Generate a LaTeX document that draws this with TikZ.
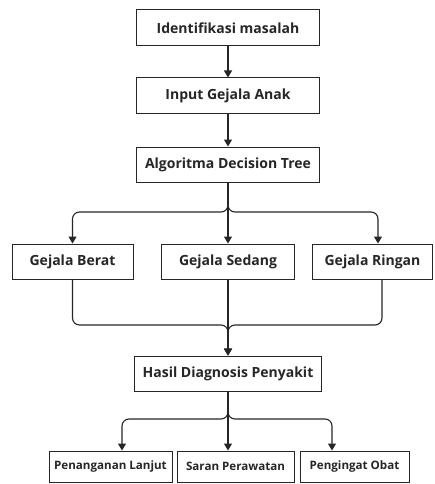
\documentclass[tikz,border=0pt]{standalone}
\usepackage{fontspec}
\setmainfont{Open Sans}
\usetikzlibrary{arrows.meta}
\begin{document}
\begin{tikzpicture}[x=1pt,y=-1pt,
  box/.style={draw=black!85,line width=1pt,rectangle,inner sep=0pt,fill=white,
    font=\fontsize{14}{16}\selectfont\bfseries,text=black!85},
  sbox/.style={box,font=\fontsize{11.6}{13}\selectfont\bfseries},
  conn/.style={draw=black!85,line width=1.1pt,rounded corners=7pt},
  arr/.style={conn,-{Triangle[length=7pt,width=8pt]}}]
\useasboundingbox[fill=white] (0,0) rectangle (434,484);
\node[box,minimum width=183pt,minimum height=36pt] (b1) at (228,28) {Identifikasi masalah};
\node[box,minimum width=183pt,minimum height=36pt] (b2) at (228,96) {Input Gejala Anak};
\node[box,minimum width=183pt,minimum height=35pt] (b3) at (228,164.5) {Algoritma Decision Tree};
\node[box,minimum width=121pt,minimum height=35pt] (berat) at (72.5,261.5) {Gejala Berat};
\node[box,minimum width=133pt,minimum height=35pt] (sedang) at (228,261.5) {Gejala Sedang};
\node[box,minimum width=120pt,minimum height=35pt] (ringan) at (372.5,261.5) {Gejala Ringan};
\node[box,minimum width=187pt,minimum height=35pt] (hasil) at (228,373.5) {Hasil Diagnosis Penyakit};
\node[sbox,minimum width=123pt,minimum height=31pt] (pen) at (110.5,466.5) {Penanganan Lanjut};
\node[sbox,minimum width=117pt,minimum height=31pt] (saran) at (235.5,466.5) {Saran Perawatan};
\node[sbox,minimum width=109pt,minimum height=31pt] (ping) at (354.5,466.5) {Pengingat Obat};
\coordinate (j1) at (228,212);
\coordinate (j2) at (228,325);
\coordinate (j3) at (228,419);
\coordinate (tr) at (378,243.5);
\coordinate (br) at (382,279);
\coordinate (tp) at (122,450.5);
\coordinate (tg) at (332,450.5);
\coordinate (ts) at (228,450.5);
\draw[arr] (b1) -- (b2);
\draw[arr] (b2) -- (b3);
\draw[arr] (b3.south) -- (j1) -| (berat.north);
\draw[arr] (b3.south) -- (j1) -| (tr);
\draw[arr] (b3.south) -- (sedang.north);
\draw[arr] (sedang.south) -- (hasil.north);
\draw[arr] (berat.south) |- (j2) -- (hasil.north);
\draw[arr] (br) |- (j2) -- (hasil.north);
\draw[arr] (hasil.south) -- (j3) -| (tp);
\draw[arr] (hasil.south) -- (j3) -| (tg);
\draw[arr] (hasil.south) -- (ts);
\end{tikzpicture}
\end{document}
